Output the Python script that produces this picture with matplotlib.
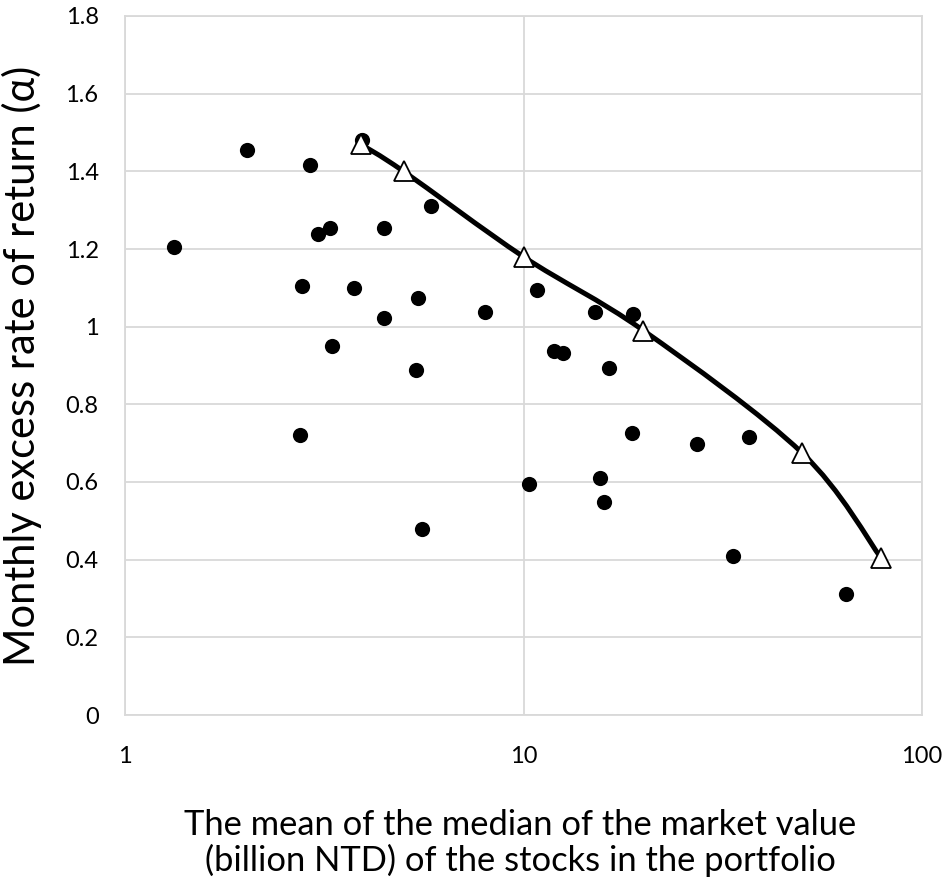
import matplotlib
matplotlib.use("Agg")
import matplotlib.pyplot as plt
import numpy as np
from matplotlib.path import Path
from matplotlib.patches import PathPatch
from matplotlib.ticker import FixedLocator, FixedFormatter

plt.rcParams['font.family'] = ['Lato', 'DejaVu Sans']

# Portfolio scatter points
market_value = [1.33, 2.02, 2.91, 3.05, 3.27, 2.78, 3.75, 4.47, 4.47, 3.31, 2.75,
                3.93, 5.86, 5.44, 5.37, 5.56, 8.0, 10.8, 10.3, 11.9, 12.6, 15.1,
                18.8, 16.4, 18.7, 15.6, 15.9, 27.3, 36.8, 33.6, 64.5]
alpha = [1.205, 1.455, 1.416, 1.239, 1.254, 1.105, 1.10, 1.254, 1.022, 0.950, 0.721,
         1.481, 1.311, 1.074, 0.888, 0.479, 1.038, 1.094, 0.595, 0.937, 0.932, 1.038,
         1.033, 0.894, 0.726, 0.610, 0.549, 0.698, 0.716, 0.409, 0.312]

# Frontier (triangles)
frontier_x = [3.9, 5, 10, 20, 50, 79]
frontier_y = [1.47, 1.40, 1.18, 0.99, 0.675, 0.404]

y_ticks = [0, 0.2, 0.4, 0.6, 0.8, 1.0, 1.2, 1.4, 1.6, 1.8]
y_labels = ["0", "0.2", "0.4", "0.6", "0.8", "1", "1.2", "1.4", "1.6", "1.8"]
x_ticks = [1, 10, 100]
x_labels = ["1", "10", "100"]

W, H = 944, 882
fig = plt.figure(figsize=(W/100, H/100), dpi=100)
ax = fig.add_axes([125/W, 1-715/H, (922-125)/W, (715-16)/H])
ax.set_xscale('log')
ax.set_xlim(1, 100)
ax.set_ylim(0, 1.8)

grid_c = '#d9d9d9'
ax.yaxis.set_major_locator(FixedLocator(y_ticks))
ax.yaxis.set_major_formatter(FixedFormatter(y_labels))
ax.xaxis.set_major_locator(FixedLocator(x_ticks))
ax.xaxis.set_major_formatter(FixedFormatter(x_labels))
ax.xaxis.set_minor_locator(FixedLocator([]))
ax.grid(True, which='major', color=grid_c, linewidth=1.3, zorder=0)
ax.set_axisbelow(True)
for s in ax.spines.values():
    s.set_color(grid_c)
    s.set_linewidth(1.3)
ax.tick_params(axis='both', which='both', length=0, labelsize=17, colors='black')
ax.tick_params(axis='x', pad=22)
ax.tick_params(axis='y', pad=19)

# Smooth line through frontier points (Catmull-Rom -> Bezier in display space)
def smooth_path(xs, ys):
    pts = ax.transData.transform(np.column_stack([xs, ys]))
    verts = [pts[0]]
    codes = [Path.MOVETO]
    n = len(pts)
    for i in range(n - 1):
        p0 = pts[i - 1] if i > 0 else pts[i]
        p1 = pts[i]
        p2 = pts[i + 1]
        p3 = pts[i + 2] if i + 2 < n else pts[i + 1]
        c1 = p1 + (p2 - p0) / 6.0
        c2 = p2 - (p3 - p1) / 6.0
        verts += [c1, c2, p2]
        codes += [Path.CURVE4] * 3
    return Path(verts, codes)

fig.canvas.draw()
patch = PathPatch(smooth_path(frontier_x, frontier_y), facecolor='none',
                  edgecolor='black', linewidth=3.6, transform=None, zorder=3)
ax.add_artist(patch)

ax.scatter(market_value, alpha, s=120, color='black', zorder=4, linewidths=0)
ax.plot(frontier_x, frontier_y, linestyle='none', marker='^', markersize=15,
        markerfacecolor='white', markeredgecolor='black', markeredgewidth=1.3, zorder=5)

fig.text(22/W, 1-366/H, 'Monthly excess rate of return (α)', fontsize=30,
         rotation=90, ha='center', va='center', color='black')
fig.text(520/W, 1-843/H,
         'The mean of the median of the market value\n(billion NTD) of the stocks in the portfolio',
         fontsize=24.8, ha='center', va='center', color='black', linespacing=1.12)

fig.savefig('out.png', dpi=100)
